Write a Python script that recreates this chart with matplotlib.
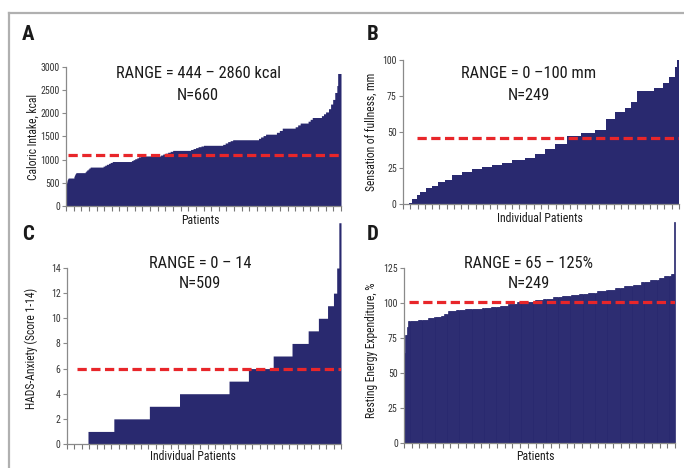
import os
import numpy as np
import matplotlib
matplotlib.use("Agg")
import matplotlib.pyplot as plt
from matplotlib import font_manager
from matplotlib.font_manager import FontProperties
from matplotlib.lines import Line2D

# ---------------- data (run-length: value, number of patients) ----------------
a_values = [444, 500, 540, 570, 590, 604, 640, 660, 680, 700, 710, 720,
            740, 760, 780, 800, 820, 840, 860, 880, 900, 920, 940, 960,
            980, 1000, 1020, 1040, 1060, 1080, 1100, 1120, 1140, 1160, 1180, 1200,
            1220, 1240, 1260, 1280, 1295, 1310, 1330, 1360, 1390, 1410, 1430,
            1460, 1490, 1520, 1550, 1590, 1630, 1680, 1710, 1750, 1790,
            1830, 1870, 1910, 1950, 1990, 2030, 2100, 2200, 2300, 2450, 2600, 2860]
a_counts = [1, 1, 1, 1, 1, 14, 1, 1, 1, 1, 1, 22,
            2, 2, 3, 2, 3, 31, 4, 4, 5, 4, 5, 46,
            4, 4, 5, 4, 5, 48, 5, 6, 6, 6, 6, 43,
            6, 6, 6, 7, 6, 46, 6, 6, 6, 6, 62,
            5, 6, 6, 26, 7, 7, 31, 6, 6, 19,
            5, 5, 22, 5, 5, 7, 5, 5, 5, 5, 2, 8]

b_values = [0, 1, 3.5, 6, 8, 11, 12.5, 15.5, 17, 20, 22, 24, 25.5, 27, 28.5,
            30.5, 32, 35, 38.5, 42, 47.5, 49, 51.5, 59, 64, 67, 71, 78.5,
            80.5, 84, 88, 95, 100]
b_counts = [5, 3, 5, 2, 6, 5, 6, 6, 6, 9, 9, 9, 9, 9, 9,
            12, 9, 9, 9, 11, 13, 12, 10, 8, 9, 6, 5, 15,
            9, 5, 5, 2, 2]

c_values = [0, 1, 2, 3, 4, 5, 6, 7, 8, 9, 10, 11, 12, 14, 17.6]
c_counts = [39, 48, 66, 56, 92, 36, 46, 35, 30, 19, 17, 11, 6, 4, 4]

d_values = [64, 77, 83, 87, 88, 89, 90, 91, 92.5, 94, 95, 95.5, 96, 96.5, 97.5,
            98, 99, 100.5, 101, 102, 103, 104, 105, 106, 106.5, 107.5, 108.5,
            109.5, 111, 112, 113, 115, 116.5, 118, 119.5, 121, 158]
d_counts = [1, 2, 1, 9, 9, 6, 6, 3, 3, 8, 8, 8, 8, 8, 8,
            8, 8, 8, 8, 8, 9, 8, 8, 8, 8, 8, 9,
            8, 8, 8, 8, 8, 8, 5, 6, 3, 1]

ref_lines = [1100, 46, 6, 101]
range_texts = ["RANGE = 444 \u2013 2860 kcal", "RANGE = 0 \u2013100 mm",
               "RANGE = 0 \u2013 14", "RANGE = 65 \u2013 125%"]
n_texts = ["N=660", "N=249", "N=509", "N=249"]
ylabels = ["Caloric Intake, kcal", "Sensation of fullness, mm",
           "HADS-Anxiety (Score 1-14)", "Resting Energy Expenditure, %"]
xlabels = ["Patients", "Individual Patients", "Individual Patients", "Patients"]
letters = ["A", "B", "C", "D"]
yticks = [list(range(0, 3001, 500)), [0, 25, 50, 75, 100],
          list(range(0, 15, 2)), [0, 25, 50, 75, 100, 125]]
ylims = [(0, 3000), (0, 100), (0, 14), (0, 125)]

# ---------------- fonts: prefer a condensed sans ----------------
def find_font(keys):
    files = [f.fname for f in font_manager.fontManager.ttflist]
    for key in keys:
        for fn in files:
            if key.lower() in os.path.basename(fn).lower():
                return fn
    return None

reg_path = find_font(["LiberationSansNarrow-Regular", "RobotoCondensed-Regular",
                      "Roboto_Condensed-Regular", "OpenSans_Condensed-Regular",
                      "OpenSansCondensed-Regular", "DejaVuSansCondensed.ttf"])
bold_path = find_font(["LiberationSansNarrow-Bold", "RobotoCondensed-Bold",
                       "Roboto_Condensed-Bold", "OpenSans_Condensed-Bold",
                       "DejaVuSansCondensed-Bold"])
plt.rcParams['font.family'] = ['Liberation Sans', 'DejaVu Sans']

def fp(size, bold=False):
    if bold and bold_path:
        return FontProperties(fname=bold_path, size=size)
    if not bold and reg_path:
        return FontProperties(fname=reg_path, size=size)
    return FontProperties(family=['Liberation Sans', 'DejaVu Sans'], size=size,
                          weight='bold' if bold else 'normal')

NAVY = "#29296f"
RED = "#e8262a"
GRAY = "#8a8a8a"
TXT = "#1a1a1a"

fig = plt.figure(figsize=(6.84, 4.68), dpi=100)
W, H = 684, 468

def px_axes(l, t, r, b):
    return fig.add_axes([l / W, 1 - b / H, (r - l) / W, (b - t) / H])

boxes = [(66, 67, 341, 206), (403, 60, 679, 204), (67, 268, 341, 444), (404, 268, 675, 443)]
data = [(a_values, a_counts), (b_values, b_counts), (c_values, c_counts), (d_values, d_counts)]
nticks = [36, 38, 37, 35]
letter_pos = [(22, 35), (367, 35), (22, 234), (367, 234)]
range_pos = [(198, 74), (529, 74), (200, 264), (529, 264)]
n_pos = [(198, 96), (529, 95), (200, 283), (529, 283)]
xlab_pos = [(200, 220), (540, 219), (193, 456), (535, 456)]
ylab_pos = [(33, 137), (371, 132), (31, 348), (371, 350)]
line_start = [0.008, 0.05, 0.035, 0.02]

for i in range(4):
    ax = px_axes(*boxes[i])
    vals = np.repeat(np.array(data[i][0], dtype=float), data[i][1])
    n = len(vals)
    if i < 3:
        xs = np.arange(n + 1) - 0.5
        ys = np.append(vals, vals[-1])
        ax.fill_between(xs, 0, ys, step='post', color=NAVY, linewidth=0,
                        antialiased=True, clip_on=False, zorder=1)
    else:
        ax.bar(np.arange(n), vals, width=1.0, color=NAVY, edgecolor=NAVY,
               linewidth=0.5, clip_on=False, zorder=1)
    ax.set_xlim(-0.5, n - 0.5)
    ax.set_ylim(*ylims[i])
    ax.set_yticks(yticks[i])
    ax.set_yticklabels([str(t) for t in yticks[i]])
    for lab in ax.get_yticklabels():
        lab.set_fontproperties(fp(7.0))
        lab.set_color("#333333")
    ax.set_xticks(np.linspace(-0.5, n - 0.5, nticks[i] + 1))
    ax.set_xticklabels([])
    for s in ["top", "right"]:
        ax.spines[s].set_visible(False)
    for s in ["left", "bottom"]:
        ax.spines[s].set_color(GRAY)
        ax.spines[s].set_linewidth(0.9)
        ax.spines[s].set_zorder(3)
    ax.tick_params(axis='y', which='major', direction='out', length=3, width=0.8,
                   color=GRAY, pad=1.5, left=True)
    ax.tick_params(axis='x', which='major', direction='out', length=3.5, width=0.8,
                   color="#777777", bottom=True)
    ax.axhline(ref_lines[i], xmin=line_start[i], xmax=1.0, color=RED, lw=2.3,
               dashes=(2.9, 1.4), zorder=5)
    ax.set_facecolor("none")

    fig.text(letter_pos[i][0] / W, 1 - letter_pos[i][1] / H, letters[i],
             fontproperties=fp(15, bold=True), color=TXT, ha='left', va='center')
    fig.text(range_pos[i][0] / W, 1 - range_pos[i][1] / H, range_texts[i],
             fontproperties=fp(11.8), color=TXT, ha='center', va='center')
    fig.text(n_pos[i][0] / W, 1 - n_pos[i][1] / H, n_texts[i],
             fontproperties=fp(11.8), color=TXT, ha='center', va='center')
    fig.text(xlab_pos[i][0] / W, 1 - xlab_pos[i][1] / H, xlabels[i],
             fontproperties=fp(8.5), color=TXT, ha='center', va='center')
    fig.text(ylab_pos[i][0] / W, 1 - ylab_pos[i][1] / H, ylabels[i],
             fontproperties=fp(8.3), color=TXT, ha='center', va='center',
             rotation=90)

# gray frame
fig.add_artist(Line2D([9 / W, 1.0], [1 - 13 / H, 1 - 13 / H], color="#b0b0b0", lw=1.6))
fig.add_artist(Line2D([9 / W, 9 / W], [0, 1 - 13 / H], color="#b0b0b0", lw=1.6))

fig.savefig("out.png", dpi=100)
